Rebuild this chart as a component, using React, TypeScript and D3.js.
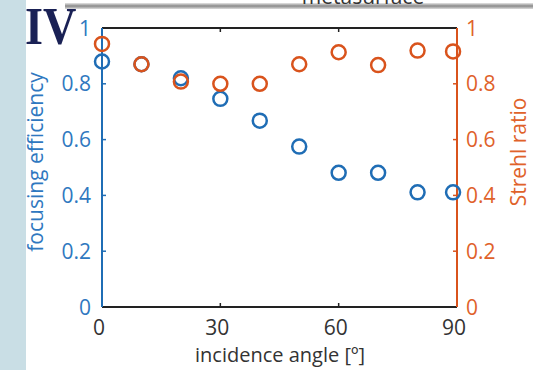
import React from "react";
import * as d3 from "d3";

const angles = [0, 10, 20, 30, 40, 50, 60, 70, 80, 89];
const efficiency = [0.88, 0.87, 0.82, 0.746, 0.668, 0.575, 0.481, 0.481, 0.411, 0.411];
const strehl = [0.943, 0.87, 0.808, 0.8, 0.8, 0.87, 0.913, 0.867, 0.919, 0.916];
const xTicks = [0, 30, 60, 90];
const yTicks = [0, 0.2, 0.4, 0.6, 0.8, 1];

const BLUE = "#1f6db5";
const ORANGE = "#d9531c";
const BLUE_T = "#2f78c0";
const ORANGE_T = "#e0622a";
const FONT = "'Open Sans', sans-serif";

export default function App() {
  const W = 533, H = 370;
  const left = 102, right = 457, top = 28, bottom = 307;
  const x = d3.scaleLinear().domain([0, 90]).range([left, right]);
  const yL = d3.scaleLinear().domain([0, 1]).range([bottom, top]);
  const yR = d3.scaleLinear().domain([0, 1]).range([bottom, top]);
  const fmt = (v: number) => (v === 0 || v === 1 ? String(v) : d3.format(".1f")(v));
  return (
    <svg width={W} height={H} style={{ position: "absolute", left: 0, top: 0, background: "#fff" }}>
      <rect x={0} y={0} width={26} height={H} fill="#c9dee5" />
      <defs>
        <linearGradient id="g" x1="0" y1="0" x2="0" y2="1">
          <stop offset="0" stopColor="#e6e6e6" />
          <stop offset="0.5" stopColor="#8a8a8a" />
          <stop offset="1" stopColor="#dcdcdc" />
        </linearGradient>
      </defs>
      <rect x={65} y={3} width={W - 65} height={6} fill="url(#g)" />
      <text x={363} y={4} textAnchor="middle" fontFamily={FONT} fontSize={21} fill="#333">metasurface</text>
      {/* axes lines */}
      <line x1={left} x2={right} y1={top} y2={top} stroke="#222" strokeWidth={2} />
      <line x1={left} x2={right} y1={bottom} y2={bottom} stroke="#222" strokeWidth={2} />
      <line x1={left} x2={left} y1={top} y2={bottom} stroke={BLUE} strokeWidth={2} />
      <line x1={right} x2={right} y1={top} y2={bottom} stroke={ORANGE} strokeWidth={2} />
      {xTicks.slice(1, -1).map((t) => (
        <g key={"xt" + t}>
          <line x1={x(t)} x2={x(t)} y1={bottom} y2={bottom - 4} stroke="#222" strokeWidth={1.5} />
          <line x1={x(t)} x2={x(t)} y1={top} y2={top + 4} stroke="#222" strokeWidth={1.5} />
        </g>
      ))}
      {yTicks.slice(1, -1).map((t) => (
        <g key={"yt" + t}>
          <line x1={left} x2={left + 4} y1={yL(t)} y2={yL(t)} stroke={BLUE} strokeWidth={1.5} />
          <line x1={right} x2={right - 4} y1={yR(t)} y2={yR(t)} stroke={ORANGE} strokeWidth={1.5} />
        </g>
      ))}
      {xTicks.map((t) => (
        <text key={"xl" + t} x={x(t) - 3} y={335} textAnchor="middle" fontFamily={FONT} fontSize={21} fill="#333">{t}</text>
      ))}
      {yTicks.map((t) => (
        <text key={"yl" + t} x={91} y={yL(t) + 7.5} textAnchor="end" fontFamily={FONT} fontSize={21} fill={BLUE_T}>{fmt(t)}</text>
      ))}
      {yTicks.map((t) => (
        <text key={"yr" + t} x={466} y={yR(t) + 7.5} textAnchor="start" fontFamily={FONT} fontSize={21} fill={ORANGE_T}>{fmt(t)}</text>
      ))}
      <text x={280} y={362} textAnchor="middle" fontFamily={FONT} fontSize={20} fill="#333">incidence angle [º]</text>
      <text transform={`translate(43,162) rotate(-90)`} textAnchor="middle" fontFamily={FONT} fontSize={21} fill={BLUE_T}>focusing efficiency</text>
      <text transform={`translate(526,152) rotate(-90)`} textAnchor="middle" fontFamily={FONT} fontSize={21} fill={ORANGE_T}>Strehl ratio</text>
      {angles.map((a, i) => (
        <circle key={"b" + i} cx={x(a)} cy={yL(efficiency[i])} r={7} fill="none" stroke={BLUE} strokeWidth={2.5} />
      ))}
      {angles.map((a, i) => (
        <circle key={"o" + i} cx={x(a)} cy={yR(strehl[i])} r={7} fill="none" stroke={ORANGE} strokeWidth={2.5} />
      ))}
      <text transform="translate(25,44) scale(1.05,1.18)" fontFamily="'Liberation Serif', serif" fontWeight="bold" fontSize={44} fill="#1a2155">IV</text>
    </svg>
  );
}
